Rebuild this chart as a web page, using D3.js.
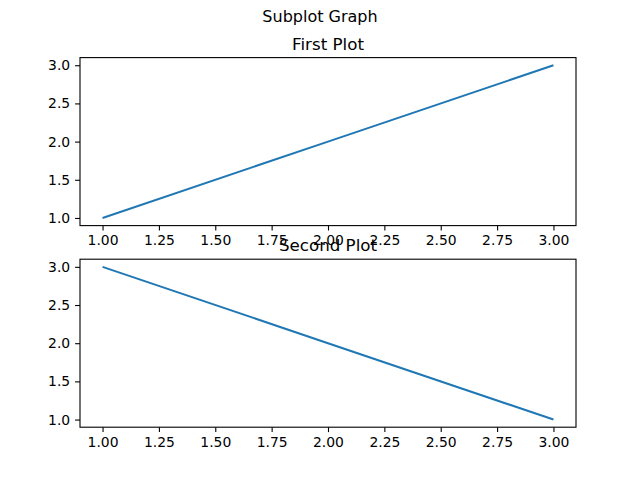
<!DOCTYPE html>
<html><head><meta charset="utf-8">
<script src="https://cdn.jsdelivr.net/npm/d3@7"></script>
<style>body{margin:0;background:#fff}text{font-family:"DejaVu Sans",sans-serif}</style>
</head><body><svg id="c" width="640" height="480"></svg>
<script>
var xValues = [1, 2, 3];
var firstY = [1, 2, 3];
var secondY = [3, 2, 1];
var xTicks = [1.00, 1.25, 1.50, 1.75, 2.00, 2.25, 2.50, 2.75, 3.00];
var yTicks = [1.0, 1.5, 2.0, 2.5, 3.0];
var titles = ["First Plot", "Second Plot"];

var svg = d3.select("#c");
svg.append("text").attr("x", 320).attr("y", 22).attr("text-anchor", "middle")
    .style("font-size", "16px").text("Subplot Graph");

var left = 80, right = 576, h = 168, tops = [57.6, 259.2];
var x = d3.scaleLinear().domain([0.9, 3.1]).range([left, right]);

function drawPlot(top, ys, title){
    var y = d3.scaleLinear().domain([0.9, 3.1]).range([top + h, top]);
    var g = svg.append("g");
    var xa = g.append("g").attr("transform", "translate(0," + (top + h) + ")")
        .call(d3.axisBottom(x).tickValues(xTicks).tickFormat(d3.format(".2f")).tickSizeOuter(0).tickSize(4.9).tickPadding(4.9));
    var ya = g.append("g").attr("transform", "translate(" + left + ",0)")
        .call(d3.axisLeft(y).tickValues(yTicks).tickFormat(d3.format(".1f")).tickSizeOuter(0).tickSize(4.9).tickPadding(4.9));
    [xa, ya].forEach(function(a){
        a.select(".domain").remove();
        a.selectAll("text").style("font-size", "13.9px").attr("fill", "#000");
        a.selectAll("line").attr("stroke", "#000").attr("stroke-width", 1.1);
    });
    g.append("rect").attr("x", left).attr("y", top).attr("width", right - left).attr("height", h)
        .attr("fill", "none").attr("stroke", "#000").attr("stroke-width", 1.1);
    var line = d3.line().x(function(d, i){ return x(xValues[i]); }).y(function(d){ return y(d); });
    g.append("path").datum(ys).attr("d", line).attr("fill", "none")
        .attr("stroke", "#1f77b4").attr("stroke-width", 2);
    g.append("text").attr("x", (left + right) / 2).attr("y", top - 8).attr("text-anchor", "middle")
        .style("font-size", "16.7px").text(title);
}
drawPlot(tops[0], firstY, titles[0]);
drawPlot(tops[1], secondY, titles[1]);
</script></body></html>
